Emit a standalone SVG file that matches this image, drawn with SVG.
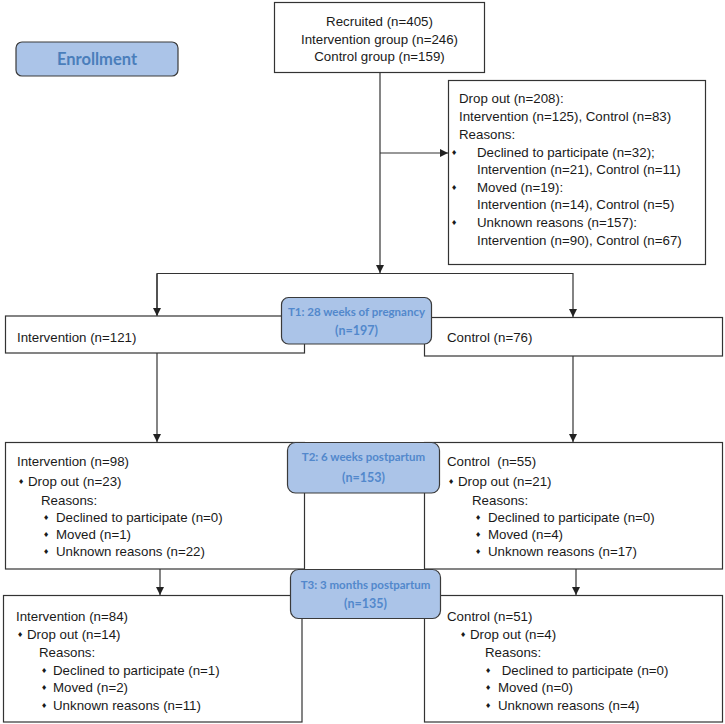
<svg xmlns="http://www.w3.org/2000/svg" width="725" height="724" viewBox="0 0 725 724">
  <defs>
    <marker id="arrow" viewBox="0 0 8 10" refX="8" refY="5" markerWidth="8" markerHeight="10" markerUnits="userSpaceOnUse" orient="auto">
      <path d="M0,1 L8,5 L0,9 Z" fill="#222"/>
    </marker>
    <style>
      .box { fill: #ffffff; stroke: #333333; stroke-width: 1.2; }
      .stage { fill: #abc4e8; stroke: #3a3a3a; stroke-width: 1.2; }
      .txt { font-family: "Liberation Sans", Arial, sans-serif; font-size: 13.3px; fill: #1a1a1a; }
      .mid { text-anchor: middle; }
      .stagetxt { font-family: Lato, "Open Sans", sans-serif; font-weight: 700; font-size: 11.5px; fill: #5288cc; text-anchor: middle; }
      .stagenum { font-family: Lato, "Open Sans", sans-serif; font-weight: 700; font-size: 12.5px; fill: #5288cc; text-anchor: middle; }
      .enroll { font-family: Lato, "Open Sans", sans-serif; font-weight: 700; font-size: 16.5px; fill: #4a7ebb; text-anchor: middle; }
      .bul { font-family: "DejaVu Sans", sans-serif; font-size: 7px; fill: #1a1a1a; }
      .conn { fill: none; stroke: #333333; stroke-width: 1.2; }
    </style>
  </defs>

  <rect width="725" height="724" fill="#ffffff"/>

  <!-- connectors -->
  <g id="connectors">
    <line class="conn" x1="380" y1="72" x2="380" y2="273" marker-end="url(#arrow)"/>
    <line class="conn" x1="380" y1="153" x2="448" y2="153" marker-end="url(#arrow)"/>
    <polyline class="conn" points="157,315 157,273.5 573,273.5 573,317" marker-end="url(#arrow)"/>
    <line class="conn" x1="157" y1="274" x2="157" y2="316" marker-end="url(#arrow)"/>
    <line class="conn" x1="157" y1="353" x2="157" y2="442" marker-end="url(#arrow)"/>
    <line class="conn" x1="573" y1="356" x2="573" y2="442" marker-end="url(#arrow)"/>
    <line class="conn" x1="160" y1="545" x2="160" y2="595" marker-end="url(#arrow)"/>
    <line class="conn" x1="576" y1="545" x2="576" y2="595" marker-end="url(#arrow)"/>
  </g>

  <!-- enrollment label -->
  <g id="enrollment">
    <rect class="stage" x="16" y="42" width="162" height="34" rx="6"/>
    <text class="enroll" x="97" y="65">Enrollment</text>
  </g>

  <!-- recruited -->
  <g id="recruited">
    <rect class="box" x="274.5" y="2.5" width="210" height="70"/>
    <text class="txt mid" x="379.5" y="26">Recruited (n=405)</text>
    <text class="txt mid" x="379.5" y="43.5">Intervention group (n=246)</text>
    <text class="txt mid" x="379.5" y="61">Control group (n=159)</text>
  </g>

  <!-- enrollment drop out -->
  <g id="dropout-enrollment">
    <rect class="box" x="448.5" y="80.5" width="257" height="184"/>
    <text class="txt" x="459" y="103">Drop out (n=208):</text>
    <text class="txt" x="459" y="120.5">Intervention (n=125), Control (n=83)</text>
    <text class="txt" x="459" y="138.5">Reasons:</text>
    <text class="bul" x="451" y="155">♦</text>
    <text class="txt" x="477" y="156.5">Declined to participate (n=32);</text>
    <text class="txt" x="477" y="174">Intervention (n=21), Control (n=11)</text>
    <text class="bul" x="451" y="190">♦</text>
    <text class="txt" x="477" y="191.5">Moved (n=19):</text>
    <text class="txt" x="477" y="209">Intervention (n=14), Control (n=5)</text>
    <text class="bul" x="451" y="225">♦</text>
    <text class="txt" x="477" y="226.5">Unknown reasons (n=157):</text>
    <text class="txt" x="477" y="244.5">Intervention (n=90), Control (n=67)</text>
  </g>

  <!-- T1 row -->
  <g id="t1-intervention">
    <rect class="box" x="5.5" y="316" width="299" height="37"/>
    <text class="txt" x="17" y="342">Intervention (n=121)</text>
  </g>
  <g id="t1-control">
    <rect class="box" x="424.5" y="317.5" width="298" height="38.5"/>
    <text class="txt" x="447" y="342">Control (n=76)</text>
  </g>
  <g id="t1-stage">
    <rect class="stage" x="281.5" y="297.5" width="150" height="46.5" rx="7"/>
    <text class="stagetxt" x="356.5" y="316">T1: 28 weeks of pregnancy</text>
    <text class="stagenum" x="356.5" y="335">(n=197)</text>
  </g>

  <!-- T2 row -->
  <g id="t2-intervention">
    <rect class="box" x="5.5" y="442.5" width="299" height="126.5"/>
    <text class="txt" x="17" y="466">Intervention (n=98)</text>
    <text class="bul" x="18" y="484">♦</text>
    <text class="txt" x="28" y="486">Drop out (n=23)</text>
    <text class="txt" x="41" y="505">Reasons:</text>
    <text class="bul" x="43" y="520">♦</text>
    <text class="txt" x="56" y="522">Declined to participate (n=0)</text>
    <text class="bul" x="43" y="537">♦</text>
    <text class="txt" x="56" y="539">Moved (n=1)</text>
    <text class="bul" x="43" y="554">♦</text>
    <text class="txt" x="56" y="556">Unknown reasons (n=22)</text>
  </g>
  <g id="t2-control">
    <rect class="box" x="424.5" y="442.5" width="298" height="126.5"/>
    <text class="txt" x="447" y="466" xml:space="preserve">Control  (n=55)</text>
    <text class="bul" x="448" y="484">♦</text>
    <text class="txt" x="458" y="486">Drop out (n=21)</text>
    <text class="txt" x="472" y="505">Reasons:</text>
    <text class="bul" x="475" y="520">♦</text>
    <text class="txt" x="488" y="522">Declined to participate (n=0)</text>
    <text class="bul" x="475" y="537">♦</text>
    <text class="txt" x="488" y="539">Moved (n=4)</text>
    <text class="bul" x="475" y="554">♦</text>
    <text class="txt" x="488" y="556">Unknown reasons (n=17)</text>
  </g>
  <g id="t2-stage">
    <rect class="stage" x="287.5" y="442.5" width="152" height="50.5" rx="8"/>
    <text class="stagetxt" x="363.5" y="461">T2: 6 weeks postpartum</text>
    <text class="stagenum" x="363.5" y="482">(n=153)</text>
  </g>

  <!-- T3 row -->
  <g id="t3-intervention">
    <rect class="box" x="3.5" y="595.5" width="298.5" height="126.5"/>
    <text class="txt" x="16" y="621">Intervention (n=84)</text>
    <text class="bul" x="17" y="637">♦</text>
    <text class="txt" x="27" y="639">Drop out (n=14)</text>
    <text class="txt" x="39" y="657">Reasons:</text>
    <text class="bul" x="41" y="673">♦</text>
    <text class="txt" x="53" y="675">Declined to participate (n=1)</text>
    <text class="bul" x="41" y="690">♦</text>
    <text class="txt" x="53" y="692">Moved (n=2)</text>
    <text class="bul" x="41" y="708">♦</text>
    <text class="txt" x="53" y="710">Unknown reasons (n=11)</text>
  </g>
  <g id="t3-control">
    <rect class="box" x="424.5" y="595.5" width="298" height="126.5"/>
    <text class="txt" x="447" y="621">Control (n=51)</text>
    <text class="bul" x="460" y="637">♦</text>
    <text class="txt" x="470" y="639">Drop out (n=4)</text>
    <text class="txt" x="485" y="657">Reasons:</text>
    <text class="bul" x="485" y="673">♦</text>
    <text class="txt" x="498" y="675" xml:space="preserve"> Declined to participate (n=0)</text>
    <text class="bul" x="485" y="690">♦</text>
    <text class="txt" x="498" y="692">Moved (n=0)</text>
    <text class="bul" x="485" y="708">♦</text>
    <text class="txt" x="498" y="710">Unknown reasons (n=4)</text>
  </g>
  <g id="t3-stage">
    <rect class="stage" x="290.5" y="569.5" width="150" height="49" rx="8"/>
    <text class="stagetxt" x="365.5" y="589">T3: 3 months postpartum</text>
    <text class="stagenum" x="365.5" y="608">(n=135)</text>
  </g>
</svg>
